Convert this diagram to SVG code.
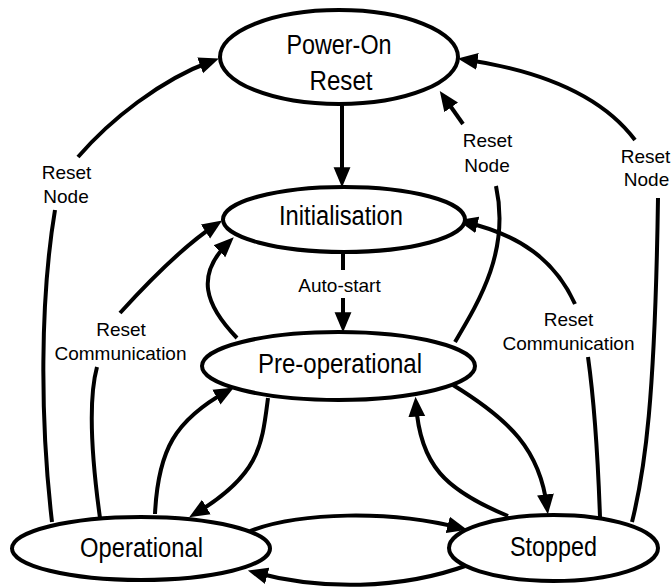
<svg xmlns="http://www.w3.org/2000/svg" width="671" height="588" viewBox="0 0 671 588">
  <style>
    .edge { fill: none; stroke: #000; stroke-width: 4; stroke-linecap: butt; }
    .arr { marker-end: url(#head); }
    .node ellipse { fill: #fff; stroke: #000; stroke-width: 4; }
    .node text { font-family: "Liberation Sans", Arial, sans-serif; font-size: 27px; text-anchor: middle; fill: #000; }
    .lbl { font-family: "Liberation Sans", Arial, sans-serif; font-size: 19px; text-anchor: middle; fill: #000; }
  </style>
  <defs>
    <marker id="head" markerUnits="userSpaceOnUse" markerWidth="20" markerHeight="18" refX="12" refY="8" orient="auto" viewBox="0 0 19 16">
      <path d="M0,0 L19,8 L0,16 z" fill="#000"/>
    </marker>
  </defs>

  <g id="connectors">
    <!-- Power-On Reset -> Initialisation -->
    <path class="edge arr" d="M342,104 L342,180"/>
    <!-- Initialisation -> Pre-operational (Auto-start) -->
    <path class="edge" d="M343,252 L343,270"/>
    <path class="edge arr" d="M343,298 L343,325"/>
    <!-- Operational -> Power-On Reset (Reset Node) -->
    <path class="edge" d="M52,522 C40,420 40,300 55,210"/>
    <path class="edge arr" d="M78,157 C110,120 160,80 212,61"/>
    <!-- Operational -> Initialisation (Reset Communication) -->
    <path class="edge" d="M100,518 C92,460 88,400 97,367"/>
    <path class="edge arr" d="M120,313 C150,280 185,245 216,224.5"/>
    <!-- Pre-operational -> Initialisation -->
    <path class="edge arr" d="M237,338 C205,305 195,275 228.5,242.5"/>
    <!-- Pre-operational -> Power-On Reset (Reset Node) -->
    <path class="edge" d="M455,342 C480,300 510,250 496,186"/>
    <path class="edge arr" d="M463,124 L444,97"/>
    <!-- Stopped -> Initialisation (Reset Communication) -->
    <path class="edge" d="M600,517 C598,460 594,400 588,357"/>
    <path class="edge arr" d="M575,304 C555,260 520,235 465,222"/>
    <!-- Stopped -> Power-On Reset (Reset Node) -->
    <path class="edge" d="M632,522 C645,470 655,400 658,198"/>
    <path class="edge arr" d="M635,140 C605,100 550,72 465,59.5"/>
    <!-- Operational <-> Pre-operational -->
    <path class="edge arr" d="M155,514 C158,450 175,420 227.5,391"/>
    <path class="edge arr" d="M268,398 C262,445 260,475 195.5,513.5"/>
    <!-- Stopped <-> Pre-operational -->
    <path class="edge arr" d="M508,516 C445,490 420,465 416,404"/>
    <path class="edge arr" d="M453,385 C510,420 540,450 547,507"/>
    <!-- Operational <-> Stopped -->
    <path class="edge arr" d="M250,531 C300,512 390,510 460,528"/>
    <path class="edge arr" d="M468,565 C400,590 320,590 255,572.5"/>
  </g>

  <g id="labels">
    <text class="lbl" x="66.5" y="179">Reset</text>
    <text class="lbl" x="66" y="203">Node</text>
    <text class="lbl" x="121" y="336">Reset</text>
    <text class="lbl" x="120.5" y="360">Communication</text>
    <text class="lbl" x="487.5" y="147">Reset</text>
    <text class="lbl" x="487" y="172">Node</text>
    <text class="lbl" x="645.5" y="163">Reset</text>
    <text class="lbl" x="646.5" y="186">Node</text>
    <text class="lbl" x="568.5" y="326">Reset</text>
    <text class="lbl" x="568.5" y="350">Communication</text>
    <text class="lbl" x="339.5" y="292">Auto-start</text>
  </g>

  <g id="power-on-reset" class="node">
    <ellipse cx="339" cy="57" rx="119" ry="47"/>
    <text x="339" y="54" textLength="105" lengthAdjust="spacingAndGlyphs">Power-On</text>
    <text x="341" y="90" textLength="63" lengthAdjust="spacingAndGlyphs">Reset</text>
  </g>
  <g id="initialisation" class="node">
    <ellipse cx="344" cy="219.5" rx="121" ry="32.5"/>
    <text x="341" y="225" textLength="124" lengthAdjust="spacingAndGlyphs">Initialisation</text>
  </g>
  <g id="pre-operational" class="node">
    <ellipse cx="338.5" cy="366" rx="136.5" ry="34"/>
    <text x="340" y="373" textLength="164" lengthAdjust="spacingAndGlyphs">Pre-operational</text>
  </g>
  <g id="operational" class="node">
    <ellipse cx="141" cy="548.5" rx="129" ry="31.5"/>
    <text x="141.5" y="557" textLength="123" lengthAdjust="spacingAndGlyphs">Operational</text>
  </g>
  <g id="stopped" class="node">
    <ellipse cx="553.5" cy="548" rx="104.5" ry="33"/>
    <text x="553.5" y="556" textLength="87" lengthAdjust="spacingAndGlyphs">Stopped</text>
  </g>
</svg>
